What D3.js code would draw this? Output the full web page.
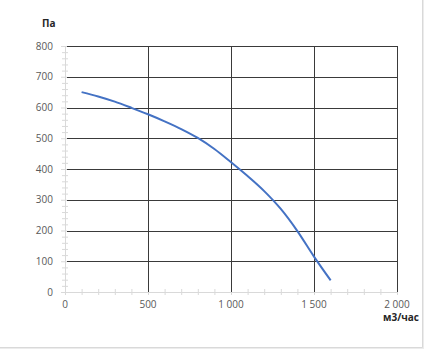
<!DOCTYPE html>
<html>
<head>
<meta charset="utf-8">
<script src="https://cdn.jsdelivr.net/npm/d3@7"></script>
<style>
  body { margin: 0; background: #ffffff; }
  text { font-family: "Open Sans", "Noto Sans", sans-serif; }
</style>
</head>
<body>
<script>
/*data*/
const flow = [100, 200, 300, 400, 500, 600, 700, 800, 900, 1000, 1100, 1200, 1300, 1400, 1500, 1600];
const pressure = [650, 636, 619, 599, 578, 555, 530, 501, 465, 422, 377, 328, 270, 198, 115, 38];
const xTicks = [0, 500, 1000, 1500, 2000];
const yTicks = [0, 100, 200, 300, 400, 500, 600, 700, 800];
const xLabel = "м3/час";
const yLabel = "Па";

/*canvas size*/
const width = 424;
const height = 349;
const plot = { left: 65, right: 397, top: 46, bottom: 292 };

const svg = d3.select('body').append('svg')
      .attr('width', width).attr('height', height);

/*outer frame*/
svg.append('rect').attr('x', 0).attr('y', 0).attr('width', width).attr('height', height)
   .attr('fill', '#ececec');
svg.append('rect').attr('x', 0).attr('y', 0).attr('width', 422).attr('height', 347)
   .attr('fill', '#ffffff');
svg.append('line').attr('x1', 422.5).attr('x2', 422.5).attr('y1', 0).attr('y2', 347.5)
   .attr('stroke', '#d9d9d9');
svg.append('line').attr('x1', 0).attr('x2', 422.5).attr('y1', 347.5).attr('y2', 347.5)
   .attr('stroke', '#d9d9d9');

/*scales*/
const xScale = d3.scaleLinear().domain([0, 2000]).range([plot.left, plot.right]);
const yScale = d3.scaleLinear().domain([0, 800]).range([plot.bottom, plot.top]);

// thousands separated by a space, like "1 000"
const fmt = d => d3.format(',')(d).replace(',', '\u00a0');

/*minor axis lines (light gray)*/
const yAxisG = svg.append('g').attr('transform', 'translate(' + plot.left + ',0)')
   .call(d3.axisLeft(yScale).tickValues(d3.range(0, 801, 20)).tickSize(0).tickFormat(''));
yAxisG.select('.domain').attr('stroke', '#d9d9d9');
yAxisG.selectAll('.tick line').attr('stroke', '#d9d9d9')
   .attr('x1', -3).attr('x2', 3);
yAxisG.selectAll('.tick').filter(d => d % 100 === 0).select('line').attr('x1', -4).attr('x2', 2);

const xAxisG = svg.append('g').attr('transform', 'translate(0,' + plot.bottom + ')')
   .call(d3.axisBottom(xScale).tickValues(d3.range(0, 2001, 100)).tickSize(0).tickFormat(''));
xAxisG.select('.domain').attr('stroke', '#d9d9d9');
xAxisG.selectAll('.tick line').attr('stroke', '#d9d9d9').attr('y1', -3).attr('y2', 3);

/*grid lines*/
const grid = svg.append('g').attr('stroke', '#3a3a3a').attr('stroke-width', 1);
grid.selectAll('line.h').data(yTicks.filter(d => d > 0)).enter().append('line')
   .attr('x1', xScale(0) + 2).attr('x2', xScale(2000))
   .attr('y1', d => Math.round(yScale(d)) + 0.5).attr('y2', d => Math.round(yScale(d)) + 0.5);
grid.selectAll('line.v').data(xTicks.filter(d => d > 0)).enter().append('line')
   .attr('x1', d => Math.round(xScale(d)) + 0.5).attr('x2', d => Math.round(xScale(d)) + 0.5)
   .attr('y1', yScale(800)).attr('y2', yScale(0));

/*tick labels*/
svg.append('g').selectAll('text').data(yTicks).enter().append('text')
   .attr('x', plot.left - 12).attr('y', d => yScale(d)).attr('dy', '0.35em')
   .attr('text-anchor', 'end').attr('font-size', 10).attr('fill', '#595959')
   .text(d => d);
svg.append('g').selectAll('text').data(xTicks).enter().append('text')
   .attr('x', d => xScale(d)).attr('y', plot.bottom + 16)
   .attr('text-anchor', 'middle').attr('font-size', 10).attr('fill', '#595959')
   .text(fmt);

/*axis titles*/
svg.append('text').attr('x', 42).attr('y', 27).attr('font-size', 10)
   .attr('font-weight', 'bold').attr('fill', '#262626').text(yLabel);
svg.append('text').attr('x', 419).attr('y', 321).attr('text-anchor', 'end').attr('font-size', 10)
   .attr('font-weight', 'bold').attr('fill', '#262626').text(xLabel);

/*curve*/
const line = d3.line().x(d => xScale(d[0])).y(d => yScale(d[1])).curve(d3.curveMonotoneX);
svg.append('path').datum(d3.zip(flow, pressure))
   .attr('d', line).attr('fill', 'none').attr('stroke', '#4472c4').attr('stroke-width', 2);
</script>
</body>
</html>
